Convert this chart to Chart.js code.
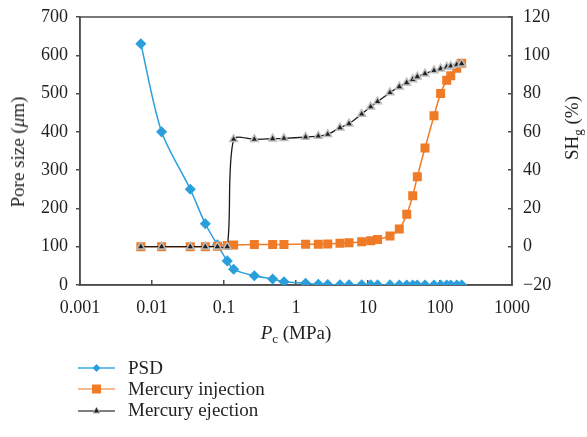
<!DOCTYPE html>
<html>
<head>
<meta charset="utf-8">
<script src="https://cdn.jsdelivr.net/npm/chart.js@4.4.1/dist/chart.umd.min.js"></script>
<style>
  body { margin: 0; background: #fff; }
  #wrap { position: relative; width: 587px; height: 437px; font-family: "Liberation Serif", serif; color: #231f20; }
  canvas { position: absolute; left: 0; top: 0; }
  .title { position: absolute; font-size: 19px; white-space: nowrap; transform: translate(-50%, -50%); }
  .rot { transform: translate(-50%, -50%) rotate(-90deg); }
  sub { font-size: 13px; vertical-align: -4px; line-height: 0; }
  #legend { position: absolute; left: 78px; top: 357px; font-size: 19px; }
  #legend div { height: 21px; display: flex; align-items: center; }
  #legend svg { margin-right: 13px; }
</style>
</head>
<body>
<div id="wrap">
  <canvas id="chart" width="587" height="437"></canvas>
  <div class="title rot" style="left:18px; top:152px;">Pore size (<i>μ</i>m)</div>
  <div class="title rot" style="left:572px; top:128px;">SH<sub>g</sub> (%)</div>
  <div class="title" style="left:296px; top:333px;"><i>P</i><sub>c</sub> (MPa)</div>
  <div id="legend">
    <div>
      <svg width="37" height="12"><line x1="0" y1="6" x2="37" y2="6" stroke="#3aa8e0" stroke-width="1.5"/><polygon points="18.5,2 22.5,6 18.5,10 14.5,6" fill="#2b9fdc"/></svg>PSD
    </div>
    <div>
      <svg width="37" height="12"><line x1="0" y1="6" x2="37" y2="6" stroke="#f3a06c" stroke-width="1.5"/><rect x="14" y="1.5" width="9" height="9" fill="#f07b27"/></svg>Mercury injection
    </div>
    <div>
      <svg width="37" height="12"><line x1="0" y1="7" x2="37" y2="7" stroke="#555" stroke-width="1.5"/><polygon points="18.5,3 22,9 15,9" fill="#222" stroke="#bbb" stroke-width="1"/></svg>Mercury ejection
    </div>
  </div>
</div>
<script>
// capillary pressure, MPa
const pressure = [0.007, 0.0136, 0.034, 0.055, 0.081, 0.111, 0.136, 0.264, 0.474, 0.68,
  1.36, 2.04, 2.76, 4.08, 5.45, 8.17, 10.9, 13.6, 20.2, 27.2,
  34.5, 41.8, 48.4, 61.9, 82.6, 102, 124, 141, 171, 200];
// pore size, um (left axis)
const psd = [630, 400, 250, 160, 105, 63, 41, 24, 15.7, 8.6,
  4.4, 1.8, 1.2, 0.8, 0.6, 0.4, 0.3, 0.2, 0.2, 0.1,
  0.1, 0.1, 0.1, 0.1, 0.1, 0.1, 0.1, 0.1, 0.1, 0.1];
// SHg %, right axis
const injection = [0, 0, 0, 0, 0.3, 0.6, 0.9, 1.2, 1.2, 1.2,
  1.3, 1.3, 1.4, 1.8, 2.1, 2.6, 3.1, 3.8, 5.6, 9.2,
  16.9, 26.6, 36.6, 51.6, 68.4, 80.1, 86.9, 89.3, 93.2, 95.8];
const ejection = [0, 0, 0, 0, 0, 0, 56.1, 56.1, 56.4, 56.6,
  57.3, 57.8, 58.7, 62.2, 64.3, 69.3, 73.1, 75.8, 80.5, 83.6,
  85.7, 87.4, 88.8, 90.4, 92, 93, 93.9, 94.4, 95.1, 95.6];
const xTicks = [0.001, 0.01, 0.1, 1, 10, 100, 1000];

const pts = vals => pressure.map((p, i) => ({ x: p, y: vals[i] }));
const axisColor = '#4d4d4d';

Chart.defaults.font.family = '"Liberation Serif", serif';
Chart.defaults.font.size = 18;
Chart.defaults.color = '#231f20';

// fixed box sizes, no label overflow padding
const fixSize = (w, h) => s => {
  if (w != null) s.width = w;
  if (h != null) s.height = h;
  s.paddingTop = s.paddingBottom = s.paddingLeft = s.paddingRight = 0;
};

const frame = {
  id: 'frame',
  beforeDatasetsDraw(chart) {
    const a = chart.chartArea, ctx = chart.ctx;
    ctx.save();
    ctx.strokeStyle = axisColor;
    ctx.lineWidth = 1.5;
    ctx.strokeRect(a.left, a.top, a.right - a.left, a.bottom - a.top);
    ctx.restore();
  }
};

new Chart(document.getElementById('chart'), {
  type: 'line',
  data: {
    datasets: [
      {
        label: 'PSD', data: pts(psd), yAxisID: 'y', order: 3,
        borderColor: '#2b9fdc', backgroundColor: '#2b9fdc', borderWidth: 1.5,
        pointStyle: 'rectRot', pointRadius: 4.5, tension: 0.3
      },
      {
        label: 'Mercury injection', data: pts(injection), yAxisID: 'y2', order: 2,
        borderColor: '#f07b27', backgroundColor: '#f07b27', borderWidth: 1.5,
        pointStyle: 'rect', pointRadius: 5.3, tension: 0.3
      },
      {
        label: 'Mercury ejection', data: pts(ejection), yAxisID: 'y2', order: 1,
        borderColor: '#1a1a1a', borderWidth: 1.3,
        pointStyle: 'triangle', pointRadius: 4.5,
        pointBackgroundColor: '#222', pointBorderColor: '#bdbdbd', pointBorderWidth: 1.5,
        tension: 0.3
      }
    ]
  },
  options: {
    responsive: false,
    animation: false,
    layout: { padding: { top: 17, left: 0, right: 0, bottom: 0 } },
    plugins: { legend: { display: false }, tooltip: { enabled: false } },
    scales: {
      x: {
        type: 'logarithmic', min: 0.001, max: 1000,
        afterBuildTicks: s => { s.ticks = xTicks.map(v => ({ value: v })); },
        afterFit: fixSize(null, 152),
        ticks: { callback: v => String(v), autoSkip: false, maxRotation: 0, padding: 17 },
        grid: { drawOnChartArea: false, tickLength: -5, color: axisColor, lineWidth: 1.5 },
        border: { display: true, color: axisColor, width: 1.5 }
      },
      y: {
        position: 'left', min: 0, max: 700,
        afterFit: fixSize(80, null),
        ticks: { stepSize: 100, padding: 8 },
        grid: { drawOnChartArea: false, tickLength: 4, color: axisColor, lineWidth: 1.5 },
        border: { display: true, color: axisColor, width: 1.5 }
      },
      y2: {
        position: 'right', min: -20, max: 120,
        afterFit: fixSize(75, null),
        ticks: { stepSize: 20, padding: 15, callback: v => v < 0 ? '\u2212' + Math.abs(v) : String(v) },
        grid: { drawOnChartArea: false, tickLength: -4, color: axisColor, lineWidth: 1.5 },
        border: { display: true, color: axisColor, width: 1.5 }
      }
    }
  },
  plugins: [frame]
});
</script>
</body>
</html>
